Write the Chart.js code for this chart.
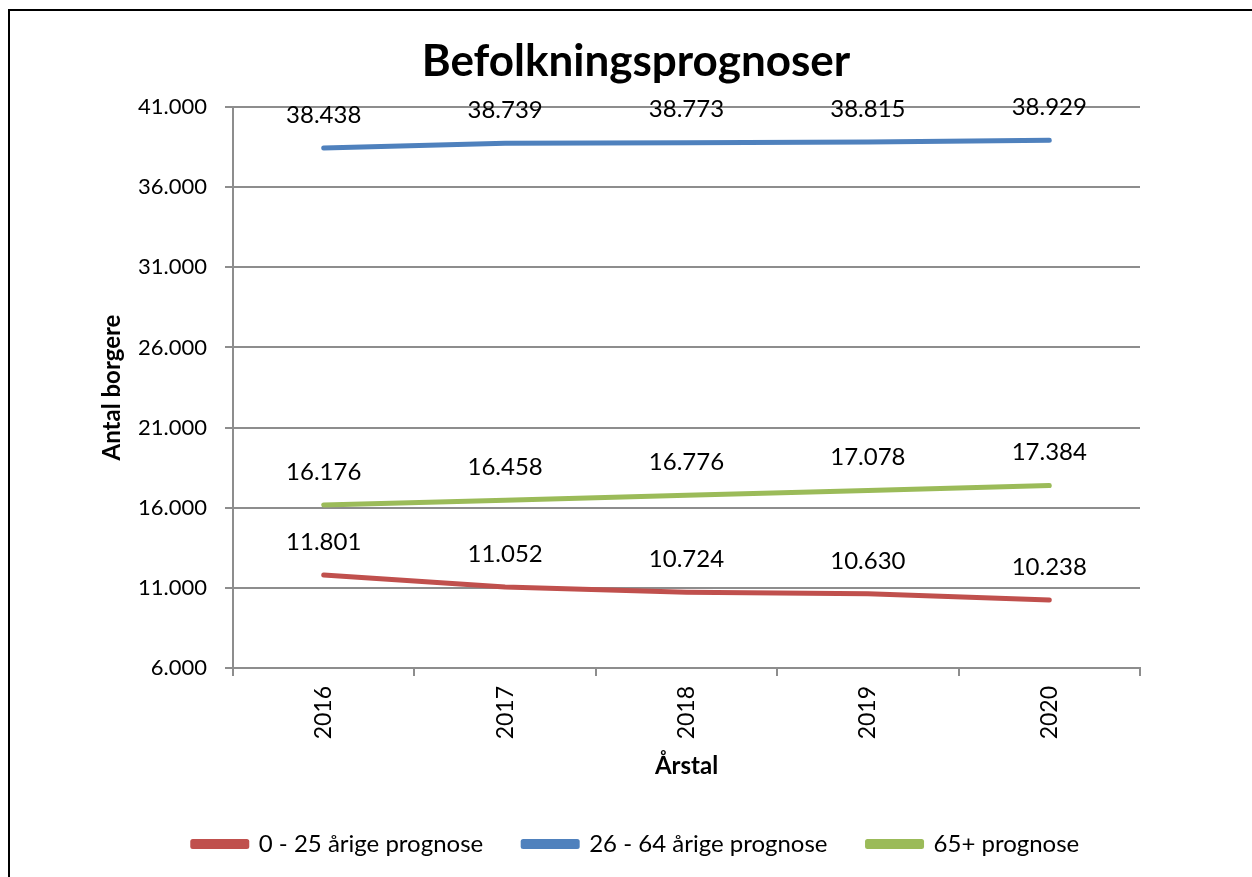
<!DOCTYPE html>
<html><head><meta charset="utf-8">
<script src="https://cdn.jsdelivr.net/npm/chart.js@4/dist/chart.umd.min.js"></script>
<style>html,body{margin:0;padding:0;background:#fff;}#wrap{width:1252px;height:877px;}</style>
</head><body><div id="wrap"><canvas id="c" width="1252" height="877"></canvas></div>
<script>
const years = ['2016', '2017', '2018', '2019', '2020'];
const young = [11801, 11052, 10724, 10630, 10238];
const adults = [38438, 38739, 38773, 38815, 38929];
const seniors = [16176, 16458, 16776, 17078, 17384];
const seriesNames = ['0 - 25 årige prognose', '26 - 64 årige prognose', '65+ prognose'];
const seriesColors = ['#C0504D', '#4F81BD', '#9BBB59'];
const yMin = 6000, yMax = 41000, yStep = 5000;
const chartTitle = 'Befolkningsprognoser';
const xTitle = 'Årstal';
const yTitle = 'Antal borgere';

const FONT = 'Lato';
const fmt = n => String(n).replace(/\B(?=(\d{3})+(?!\d))/g, '.');
const GRID = '#8d8d8d';

const frame = {
  id: 'frame',
  beforeDraw(chart) {
    const ctx = chart.ctx;
    ctx.save();
    ctx.fillStyle = '#fff';
    ctx.fillRect(0, 0, chart.width, chart.height);
    ctx.strokeStyle = '#000';
    ctx.lineWidth = 2;
    ctx.strokeRect(9, 10, 1400, 1000);
    ctx.restore();
  }
};

const valueLabels = {
  id: 'valueLabels',
  afterDatasetsDraw(chart) {
    const ctx = chart.ctx;
    ctx.save();
    ctx.font = '24px ' + FONT;
    ctx.fillStyle = '#000';
    ctx.textAlign = 'center';
    ctx.textBaseline = 'middle';
    chart.data.datasets.forEach((ds, i) => {
      const meta = chart.getDatasetMeta(i);
      meta.data.forEach((pt, j) => {
        ctx.fillText(fmt(ds.data[j]), pt.x, pt.y - 33);
      });
    });
    ctx.restore();
  }
};

const mk = (label, data, color) => ({
  label, data,
  borderColor: color, backgroundColor: color,
  borderWidth: 5, borderCapStyle: 'round', borderJoinStyle: 'round',
  pointRadius: 0, pointHoverRadius: 0, tension: 0, fill: false
});

new Chart(document.getElementById('c'), {
  type: 'line',
  data: {
    labels: years,
    datasets: [
      mk(seriesNames[0], young, seriesColors[0]),
      mk(seriesNames[1], adults, seriesColors[1]),
      mk(seriesNames[2], seniors, seriesColors[2])
    ]
  },
  options: {
    responsive: false,
    animation: false,
    devicePixelRatio: 1,
    layout: { padding: { left: 20, right: 0, top: 0, bottom: 11 } },
    plugins: {
      tooltip: { enabled: false },
      title: {
        display: true, text: chartTitle, color: '#000',
        font: { family: FONT, size: 44, weight: 'bold', lineHeight: 1.2 },
        padding: { top: 35.6, bottom: 18.6 }
      },
      legend: {
        position: 'bottom',
        labels: {
          color: '#000', font: { family: FONT, size: 24 },
          boxWidth: 54, boxHeight: 5, padding: 40
        }
      }
    },
    scales: {
      x: {
        type: 'category', offset: true,
        grid: { display: true, drawOnChartArea: false, drawTicks: true, tickLength: 8, offset: true, color: GRID, lineWidth: 2 },
        border: { display: true, color: GRID, width: 2 },
        ticks: { color: '#000', font: { family: FONT, size: 23 }, minRotation: 90, maxRotation: 90, padding: 10 },
        title: { display: true, text: xTitle, color: '#000', font: { family: FONT, size: 24, weight: 'bold', lineHeight: 1.2 }, padding: { top: 0, bottom: 11.6 } },
        afterFit(s) { s.height = 124; }
      },
      y: {
        position: 'left', min: yMin, max: yMax,
        grid: { color: GRID, lineWidth: 2, tickLength: 8 },
        border: { display: true, color: GRID, width: 2 },
        ticks: { stepSize: yStep, color: '#000', font: { family: FONT, size: 22 }, padding: 18, callback: v => fmt(v) },
        title: { display: true, text: yTitle, color: '#000', font: { family: FONT, size: 24, weight: 'bold', lineHeight: 1.2 }, padding: { top: 77.6, bottom: 0 } },
        afterFit(s) { s.width = 213; }
      },
      y2: {
        position: 'right', display: true,
        grid: { display: false }, border: { display: false },
        ticks: { display: false },
        afterFit(s) { s.width = 112; }
      }
    }
  },
  plugins: [frame, valueLabels]
});
</script></body></html>
